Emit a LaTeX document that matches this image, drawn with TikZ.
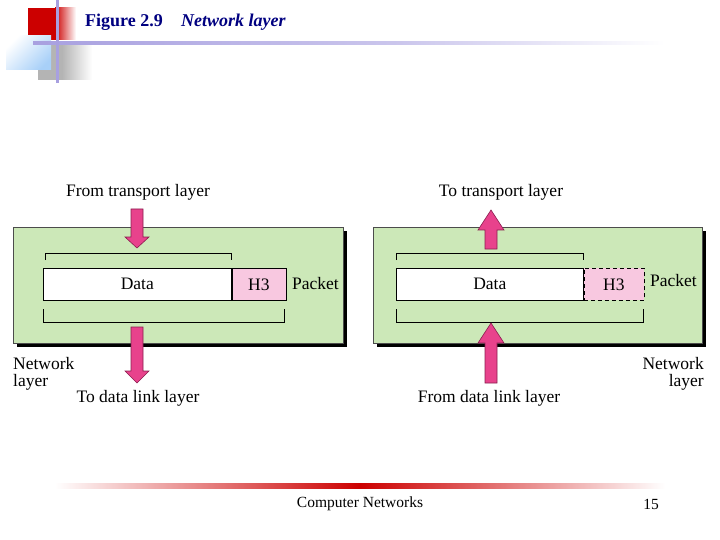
\documentclass[tikz,border=0pt]{standalone}
\usepackage{fontspec}
\setmainfont{Liberation Serif}
\definecolor{lgreen}{HTML}{CCE8B8}
\definecolor{apink}{HTML}{E8428C}
\definecolor{adark}{HTML}{8A1E4E}
\definecolor{hpink}{HTML}{F8C8E0}
\definecolor{navy}{HTML}{000080}
\definecolor{lpurple}{HTML}{A8A0E0}
\definecolor{hred}{HTML}{CC0000}
\definecolor{hblue}{HTML}{A8D0F8}
\definecolor{hgray}{HTML}{B4B4B4}
\tikzset{
  panel/.style={fill=lgreen, draw=black!70, line width=0.6pt},
  shadowbox/.style={fill=black},
  datab/.style={fill=white, draw=black, line width=0.6pt},
  hdr/.style={fill=hpink, draw=black, line width=0.6pt},
  brk/.style={draw=black, line width=0.6pt},
  blockarrow/.style={fill=apink, draw=adark, line width=0.6pt, line join=miter},
  lbl/.style={font=\fontsize{17.5}{20}\selectfont, inner sep=0pt},
}
\begin{document}
\begin{tikzpicture}[x=1pt,y=-1pt]
\useasboundingbox (0,0) rectangle (720,540);
% header decoration
\fill[hgray] (38,43) rectangle (62,80);
\shade[left color=hgray, right color=white] (62,43) rectangle (92,80);
\fill[hred] (28,8) rectangle (55,40);
\shade[left color=hred, right color=white] (55,8) rectangle (76,40);
\shade[left color=white, right color=hblue, shading angle=45] (6,36) rectangle (51,70);
\shade[left color=lpurple, right color=lpurple!60] (33,42) rectangle (400,44.5);
\shade[left color=lpurple!60, right color=white] (400,42) rectangle (665,44.5);
\fill[lpurple] (56,0) rectangle (58.5,83);
\node[anchor=west, inner sep=0pt, text=navy, font=\fontsize{18}{20}\selectfont\bfseries] (fig) at (85,22) {Figure 2.9};
\node[anchor=west, inner sep=0pt, text=navy, font=\fontsize{18}{20}\selectfont\bfseries\itshape] (title) at (181,22) {Network layer};

% ===== left panel =====
\fill[shadowbox] (17,231) rectangle (347,347);
\draw[panel] (13,227) rectangle (343,343);
\node[datab, minimum width=188, minimum height=32, inner sep=0pt, anchor=north west, lbl] (ldata) at (43,268) {Data};
\node[hdr, minimum width=54, minimum height=32, inner sep=0pt, anchor=north west, lbl] (lh3) at (ldata.north east) {H3};
\node[lbl, anchor=west] (lpk) at (292,284) {Packet};
\draw[brk] (45,260) -- (45,253) -- (231,253) -- (231,260);
\draw[brk] (43,309) -- (43,322) -- (284,322) -- (284,309);
\node[lbl] (lfrom) at (138,192) {From transport layer};
\node[lbl] (lto) at (138,398) {To data link layer};
\node[lbl, anchor=west] (lnet1) at (13,364) {Network};
\node[lbl, anchor=west] (lnet2) at (13,382) {layer};
\draw[blockarrow] (131,209) -- (143,209) -- (143,237) -- (149,237) -- (137,248) -- (125,237) -- (131,237) -- cycle;
\draw[blockarrow] (131,327) -- (143,327) -- (143,371) -- (149,371) -- (137,383) -- (125,371) -- (131,371) -- cycle;

% ===== right panel =====
\fill[shadowbox] (377,231) rectangle (706,347);
\draw[panel] (373,227) rectangle (702,343);
\node[datab, minimum width=187, minimum height=32, inner sep=0pt, anchor=north west, lbl] (rdata) at (396,268) {Data};
\node[hdr, dash pattern=on 4pt off 3pt, minimum width=60, minimum height=32, inner sep=0pt, anchor=north west, lbl] (rh3) at (rdata.north east) {H3};
\node[lbl, anchor=west] (rpk) at (650,281) {Packet};
\draw[brk] (396,260) -- (396,253) -- (583,253) -- (583,260);
\draw[brk] (396,309) -- (396,322) -- (643,322) -- (643,309);
\node[lbl] (rto) at (501,192) {To transport layer};
\node[lbl] (rfrom) at (489,398) {From data link layer};
\node[lbl, anchor=east] (rnet1) at (704,364) {Network};
\node[lbl, anchor=east] (rnet2) at (704,382) {layer};
\draw[blockarrow] (485,249) -- (497,249) -- (497,230) -- (504,230) -- (491,210) -- (478,230) -- (485,230) -- cycle;
\draw[blockarrow] (485,383) -- (497,383) -- (497,343) -- (504,343) -- (491,323) -- (478,343) -- (485,343) -- cycle;

% footer
\shade[left color=white, right color=white, middle color=hred] (55,483) rectangle (665,488);
\node[inner sep=0pt, font=\fontsize{15.5}{17}\selectfont] (foot) at (360,504) {Computer Networks};
\node[inner sep=0pt, font=\fontsize{15.5}{17}\selectfont] (pg) at (651,504) {15};
\end{tikzpicture}
\end{document}
